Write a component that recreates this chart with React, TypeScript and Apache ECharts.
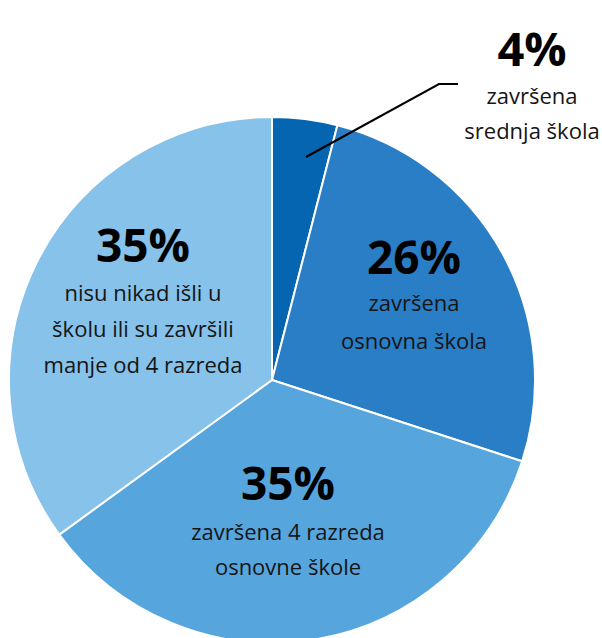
import React, { useEffect, useRef } from "react";
import * as echarts from "echarts";

const categories = [
  "završena srednja škola",
  "završena osnovna škola",
  "završena 4 razreda osnovne škole",
  "nisu nikad išli u školu ili su završili manje od 4 razreda",
];
const values = [4, 26, 35, 35];
const labelLines = [
  ["završena", "srednja škola"],
  ["završena", "osnovna škola"],
  ["završena 4 razreda", "osnovne škole"],
  ["nisu nikad išli u", "školu ili su završili", "manje od 4 razreda"],
];
const colors = ["#0565b1", "#2a7ec5", "#57a5dd", "#86c2ea"];

// label layout (pixel anchors for each label block)
const labelPos = [
  { x: 532, y: 48, pct: 47, lineGap: 35, first: 47 },
  { x: 414, y: 256, pct: 46, lineGap: 38, first: 46 },
  { x: 288, y: 482, pct: 46, lineGap: 35, first: 49 },
  { x: 143, y: 244, pct: 46, lineGap: 36, first: 48 },
];

const FONT = "'Open Sans', 'Noto Sans', sans-serif";

export default function App() {
  const ref = useRef<HTMLDivElement>(null);
  useEffect(() => {
    if (!ref.current) return;
    const chart = echarts.init(ref.current, undefined, { renderer: "svg" });
    const graphics: any[] = [];
    values.forEach((v, i) => {
      const p = labelPos[i];
      graphics.push({
        type: "text",
        x: p.x,
        y: p.y,
        z: 100,
        style: {
          text: v + "%",
          fontFamily: FONT,
          fontWeight: "bold",
          fontSize: p.pct,
          fill: "#000",
          align: "center",
          verticalAlign: "middle",
        },
      });
      labelLines[i].forEach((t, j) => {
        graphics.push({
          type: "text",
          x: p.x,
          y: p.y + p.first + j * p.lineGap,
          z: 100,
          style: {
            text: t,
            fontFamily: FONT,
            fontSize: 22,
            fill: "#151515",
            align: "center",
            verticalAlign: "middle",
          },
        });
      });
    });
    graphics.push({
      type: "polyline",
      z: 100,
      shape: {
        points: [
          [306, 157],
          [439, 84],
          [458, 84],
        ],
      },
      style: { stroke: "#000", lineWidth: 2, fill: "none" },
    });
    chart.setOption({
      animation: false,
      series: [
        {
          type: "pie",
          center: [272, 380],
          radius: 263,
          startAngle: 90,
          clockwise: true,
          z: 1,
          label: { show: false },
          labelLine: { show: false },
          itemStyle: { borderColor: "#fff", borderWidth: 2 },
          emphasis: { disabled: true },
          data: values.map((v, i) => ({
            name: categories[i],
            value: v,
            itemStyle: { color: colors[i] },
          })),
        },
      ],
      graphic: { elements: graphics },
    });
    return () => chart.dispose();
  }, []);
  return (
    <div
      ref={ref}
      style={{ position: "fixed", left: 0, top: 0, width: 602, height: 638, background: "#fff" }}
    />
  );
}
